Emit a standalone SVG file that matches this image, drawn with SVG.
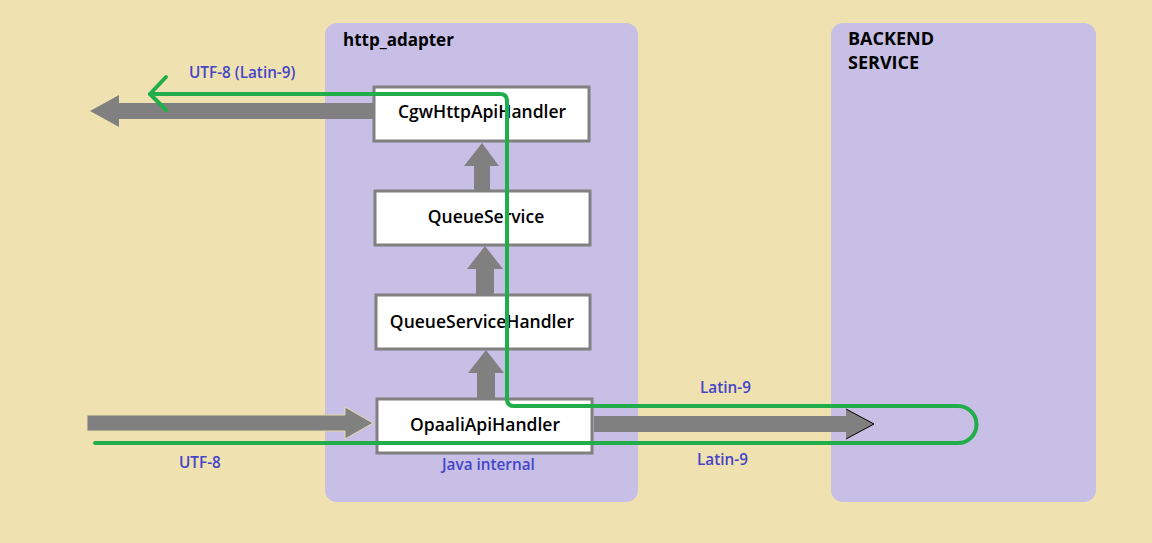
<svg xmlns="http://www.w3.org/2000/svg" width="1152" height="543" viewBox="0 0 1152 543">
<style>
.panel{fill:#C7BFE5}
.box{fill:#FFFFFF;stroke:#808080;stroke-width:3}
.boxt{font-family:"Open Sans","DejaVu Sans",sans-serif;font-size:17.5px;font-weight:600;fill:#000;text-anchor:middle}
.title{font-family:"Open Sans","DejaVu Sans",sans-serif;font-size:17px;font-weight:700;fill:#000}
.lbl{font-family:"Open Sans","DejaVu Sans",sans-serif;font-size:15.3px;font-weight:600;fill:#4545C8}
.garrow{fill:#808080}
.flow{fill:none;stroke:#22AD4B;stroke-width:4;stroke-linejoin:round;stroke-linecap:round}
</style>
<rect width="1152" height="543" fill="#EFE2B0"/>
<g id="http_adapter">
<rect class="panel" x="325" y="23" width="313" height="479" rx="12"/>
<text class="title" x="343" y="46">http_adapter</text>
</g>
<g id="backend_service">
<rect class="panel" x="831" y="23" width="265" height="479" rx="12"/>
<text class="title" x="848" y="45" style="font-size:18px">BACKEND</text>
<text class="title" x="848" y="69" style="font-size:18px">SERVICE</text>
</g>
<g id="connectors">
<polygon class="garrow" points="374,103 119,103 119,95 90,111 119,127 119,119 374,119"/>
<polygon class="garrow" points="87,415 345,415 345,407 373,423 345,439 345,431 87,431" stroke="#E6D9A8" stroke-width="1"/>
<polygon class="garrow" points="594,416 846,416 846,409 874,424 846,439 846,432 594,432"/>
<polyline points="846,409 874,424 846,439" fill="none" stroke="#000" stroke-width="1"/>
<polygon class="garrow" points="474,191 474,166 464,166 482,143 499,166 490,166 490,191"/>
<polygon class="garrow" points="476,294 476,269 467,269 485,246 503,269 494,269 494,294"/>
<polygon class="garrow" points="477,398 477,373 468,373 486,350 504,373 495,373 495,398"/>
</g>
<g id="CgwHttpApiHandler">
<rect class="box" x="374" y="87" width="215" height="54"/>
<text class="boxt" x="482" y="118">CgwHttpApiHandler</text>
</g>
<g id="QueueService">
<rect class="box" x="375" y="191" width="215" height="54"/>
<text class="boxt" x="486" y="223">QueueService</text>
</g>
<g id="QueueServiceHandler">
<rect class="box" x="376" y="295" width="214" height="54"/>
<text class="boxt" x="482" y="328">QueueServiceHandler</text>
</g>
<g id="OpaaliApiHandler">
<rect class="box" x="377" y="399" width="215" height="54"/>
<text class="boxt" x="485" y="431">OpaaliApiHandler</text>
</g>
<g id="flow">
<path class="flow" d="M95,443 L958,443 A18.5,18.5 0 0 0 958,406 L514,406 Q507,406 507,399 L507,101 Q507,94 500,94 L150,94"/>
<polyline class="flow" points="166,77 150,94 166,110"/>
</g>
<g id="labels">
<text class="lbl" x="189" y="78">UTF-8 (Latin-9)</text>
<text class="lbl" x="179" y="468">UTF-8</text>
<text class="lbl" x="442" y="470">Java internal</text>
<text class="lbl" x="700" y="393">Latin-9</text>
<text class="lbl" x="697" y="465">Latin-9</text>
</g>
</svg>
